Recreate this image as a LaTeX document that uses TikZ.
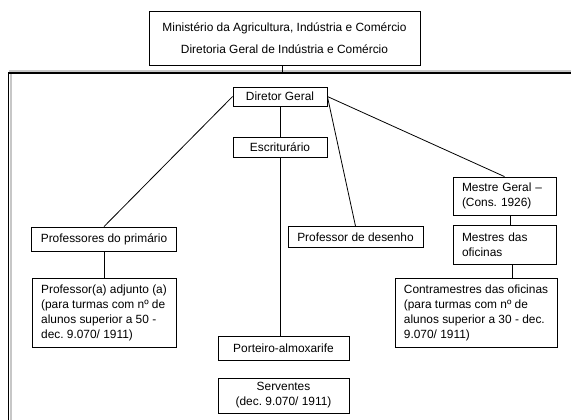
\documentclass[tikz,border=0pt]{standalone}
\usepackage{fontspec}
\setmainfont{Liberation Sans}
\frenchspacing
\begin{document}
\begin{tikzpicture}[x=1pt,y=-1pt,
  box/.style={draw, line width=0.8pt, inner xsep=9pt, inner ysep=0pt,
    font=\fontsize{11.9}{15}\selectfont, align=center, anchor=center},
  lbox/.style={box, align=left, text width=#1},
  cbox/.style={box, align=left},
  conn/.style={line width=0.8pt}]
\useasboundingbox (0,0) rectangle (571,420);
\clip (0,0) rectangle (571,420);
% frame with shadow
\draw[black!22, line width=2.2pt] (9,71) -- (575,71);
\draw[black!22, line width=2.2pt] (10.8,74) -- (10.8,425);
\draw[line width=1.3pt] (575,73) -- (8.5,73) -- (8.5,425);
\coordinate (ftop) at (282,73);
% nodes
\node[box, minimum width=271pt, minimum height=54pt, font=\fontsize{11.9}{22}\selectfont] (top) at (284.5,38)
  {Ministério da Agricultura, Indústria e Comércio\\Diretoria Geral de Indústria e Comércio};
\node[box, minimum width=94pt, minimum height=19pt] (dir) at (280,96.5) {Diretor Geral};
\node[box, minimum width=94pt, minimum height=20pt] (esc) at (280,147) {Escriturário};
\node[box, minimum width=144pt, minimum height=24pt] (prim) at (104,239) {Professores do primário};
\node[cbox, minimum width=144pt, minimum height=69pt] (adj) at (104,312.5)
  {Professor(a) adjunto (a)\\(para turmas com nº de\\alunos superior a 50 -\\dec. 9.070/ 1911)};
\node[box, minimum width=135pt, minimum height=21pt] (des) at (355.5,237) {Professor de desenho};
\node[lbox=85pt, minimum height=38pt] (mg) at (504.5,196) {Mestre Geral –\\(Cons. 1926)};
\node[lbox=85pt, minimum height=39pt] (mes) at (504.5,244.5) {Mestres das\\oficinas};
\node[cbox, minimum width=162pt, minimum height=69pt] (con) at (476,312.5)
  {Contramestres das oficinas\\(para turmas com nº de\\alunos superior a 30 - dec.\\9.070/ 1911)};
\node[box, minimum width=131pt, minimum height=24pt] (por) at (283.5,348) {Porteiro-almoxarife};
\node[box, minimum width=131pt, minimum height=35pt] (ser) at (283.5,395.5) {Serventes\\(dec. 9.070/ 1911)};
% connectors
\draw[conn] (top.south -| ftop) -- (ftop);
\draw[conn] (dir.south) -- (esc.north);
\draw[conn] (esc.south) -- (esc.south |- por.north);
\draw[conn] (dir.west) -- (prim.north);
\draw[conn] (prim.south) -- (adj.north);
\draw[conn] (dir.east) -- (des.north);
\draw[conn] (dir.east) -- (mg.north);
\draw[conn] ([xshift=5.5pt]mg.south) -- ([xshift=5.5pt]mes.north);
\draw[conn] ([xshift=7.5pt]mes.south) -- ([xshift=36pt]con.north);
\end{tikzpicture}
\end{document}
